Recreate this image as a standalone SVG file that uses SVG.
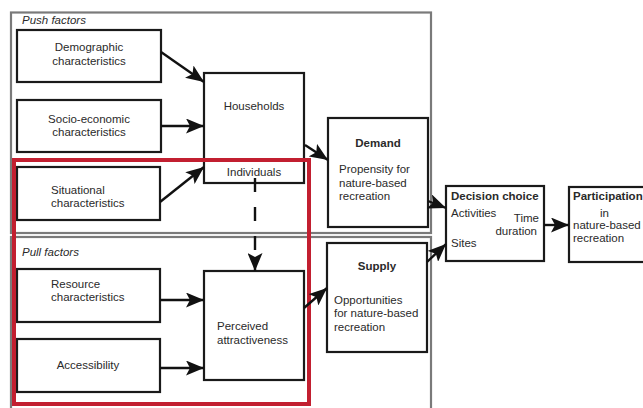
<svg xmlns="http://www.w3.org/2000/svg" width="643" height="408" viewBox="0 0 643 408">
<defs>
<marker id="ah" viewBox="0 0 18 15" refX="18" refY="7.5" markerWidth="18" markerHeight="15" markerUnits="userSpaceOnUse" orient="auto">
<path d="M0,0 L18,7.5 L0,15 L4,7.5 Z" fill="#111"/>
</marker>
<style>
.grp{fill:none;stroke:#7a7a7a;stroke-width:2.2}
.red{fill:none;stroke:#c21f30;stroke-width:4}
.box{fill:#fff;stroke:#1a1a1a;stroke-width:2.2}
text{font-family:"Liberation Sans",Arial,sans-serif;font-size:11.5px;fill:#2a2a2a}
.c{text-anchor:middle}
.e{text-anchor:end}
.b{font-weight:bold}
.i{font-style:italic}
.ln{stroke:#111;stroke-width:2.4;fill:none;marker-end:url(#ah)}
.dash{stroke-dasharray:14 15}
</style>
</defs>
<rect width="643" height="408" fill="#fff"/>
<g id="push-factors">
<rect class="grp" x="11" y="12.5" width="420" height="220.5"/>
<text class="i" x="22" y="24">Push factors</text>
</g>
<g id="pull-factors">
<rect class="grp" x="11" y="237" width="420" height="180"/>
<text class="i" x="22" y="256">Pull factors</text>
</g>
<g id="demographic">
<rect class="box" x="17" y="30" width="144" height="52"/>
<text class="c" x="89" y="51">Demographic</text>
<text class="c" x="89" y="65">characteristics</text>
</g>
<g id="socio-economic">
<rect class="box" x="17" y="100" width="144" height="52"/>
<text class="c" x="89" y="123">Socio-economic</text>
<text class="c" x="89" y="136">characteristics</text>
</g>
<g id="situational">
<rect class="box" x="17" y="167" width="143" height="53"/>
<text x="51" y="194">Situational</text>
<text x="51" y="207">characteristics</text>
</g>
<g id="resource">
<rect class="box" x="17" y="269" width="143" height="53"/>
<text x="51" y="288">Resource</text>
<text x="51" y="301">characteristics</text>
</g>
<g id="accessibility">
<rect class="box" x="17" y="339" width="143" height="53"/>
<text class="c" x="88" y="369">Accessibility</text>
</g>
<g id="households">
<rect class="box" x="204" y="73" width="100" height="110"/>
<text class="c" x="254" y="110">Households</text>
<text class="c" x="254" y="176">Individuals</text>
</g>
<g id="perceived">
<rect class="box" x="204" y="271" width="100" height="109"/>
<text x="217" y="330">Perceived</text>
<text x="217" y="344">attractiveness</text>
</g>
<g id="demand">
<rect class="box" x="328" y="118" width="100" height="109"/>
<text class="c b" x="378" y="147">Demand</text>
<text x="339" y="173">Propensity for</text>
<text x="339" y="187">nature-based</text>
<text x="339" y="200">recreation</text>
</g>
<g id="supply">
<rect class="box" x="327" y="243" width="100" height="109"/>
<text class="c b" x="377" y="270">Supply</text>
<text x="334" y="304">Opportunities</text>
<text x="334" y="317">for nature-based</text>
<text x="334" y="331">recreation</text>
</g>
<g id="decision-choice">
<rect class="box" x="446" y="186" width="98" height="75"/>
<text class="b" x="451" y="200">Decision choice</text>
<text x="451" y="217">Activities</text>
<text class="e" x="539" y="222">Time</text>
<text class="e" x="537" y="235">duration</text>
<text x="451" y="247">Sites</text>
</g>
<g id="participation">
<rect class="box" x="569" y="187" width="90" height="75"/>
<text class="b" x="573" y="200">Participation</text>
<text x="600" y="217">in</text>
<text x="573" y="229">nature-based</text>
<text x="573" y="242">recreation</text>
</g>
<g id="red-highlight">
<rect class="red" x="14" y="160" width="295" height="244"/>
</g>
<g id="connectors">
<line class="ln" x1="161" y1="52" x2="204" y2="82"/>
<line class="ln" x1="161" y1="126" x2="204" y2="126"/>
<line class="ln" x1="160" y1="202" x2="204" y2="167"/>
<line class="ln" x1="305" y1="145" x2="328" y2="160"/>
<line class="ln" x1="428" y1="201" x2="446" y2="208"/>
<line class="ln" x1="427" y1="262" x2="446" y2="244"/>
<line class="ln" x1="304" y1="308" x2="327" y2="288"/>
<line class="ln" x1="160" y1="300" x2="204" y2="300"/>
<line class="ln" x1="160" y1="368" x2="204" y2="368"/>
<line class="ln dash" x1="255" y1="178" x2="255" y2="271"/>
<line class="ln" x1="544" y1="225" x2="569" y2="225"/>
</g>
</svg>
